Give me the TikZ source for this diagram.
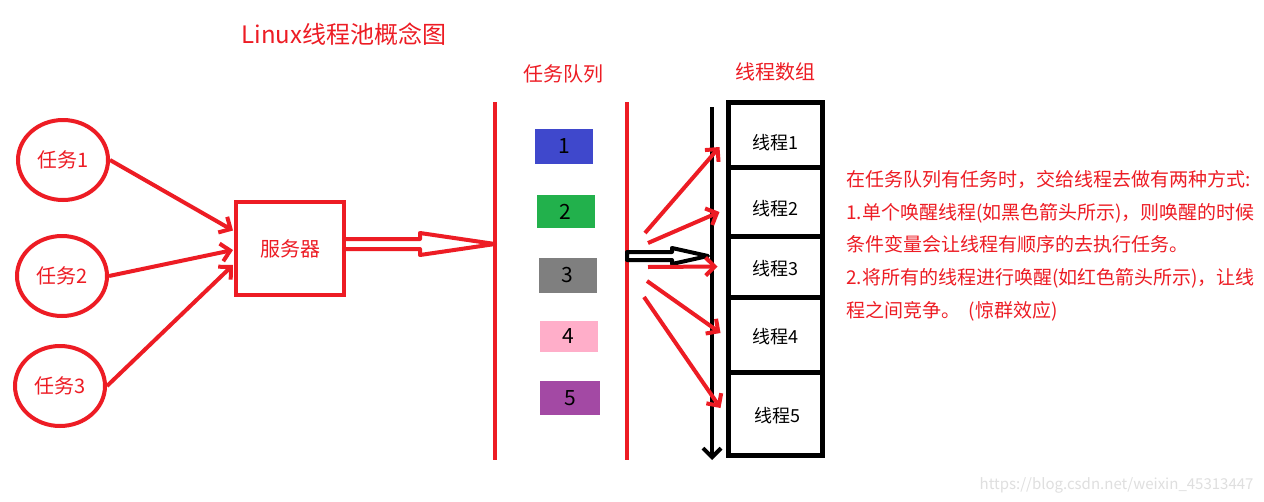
\documentclass[tikz,border=0pt]{standalone}
\usepackage{fontspec}
\setmainfont{Noto Sans CJK SC}
\usetikzlibrary{shapes.geometric,arrows.meta,calc}
\definecolor{paintred}{HTML}{ED1C24}
\definecolor{paintblue}{HTML}{3F48CC}
\definecolor{paintgreen}{HTML}{22B14C}
\definecolor{paintgray}{HTML}{7F7F7F}
\definecolor{paintpink}{HTML}{FFAEC9}
\definecolor{paintpurple}{HTML}{A349A4}

\begin{document}
\begin{tikzpicture}[x=1pt,y=-1pt,>={Straight Barb[length=9pt,width=18pt]},
  task/.style={ellipse,draw=paintred,line width=4pt,minimum width=90pt,
    minimum height=80pt,inner sep=0pt,text=paintred,font=\fontsize{20}{24}\selectfont},
  qitem/.style={minimum width=58pt,minimum height=34pt,inner sep=0pt,
    font=\fontsize{21}{24}\selectfont},
  thread/.style={draw,line width=5pt,minimum width=94pt,inner sep=0pt,
    font=\fontsize{18}{22}\selectfont},
  redline/.style={paintred,line width=4pt},
  blackline/.style={black,line width=4pt}]
  \fill[white] (0,0) rectangle (1264,501);
  \useasboundingbox (0,0) rectangle (1264,501);

  % titles
  \node[paintred,font=\fontsize{24}{28}\selectfont] (title) at (344,34) {Linux线程池概念图};
  \node[paintred,font=\fontsize{20}{24}\selectfont] (qlabel) at (563,74) {任务队列};
  \node[paintred,font=\fontsize{20}{24}\selectfont] (tlabel) at (775,72) {线程数组};

  % tasks and server
  \node[task] (task1) at (63,160) {任务1};
  \node[task] (task2) at (62,276) {任务2};
  \node[task] (task3) at (60,386) {任务3};
  \node[draw=paintred,line width=4pt,minimum width=108pt,minimum height=93pt,
    text=paintred,font=\fontsize{20}{24}\selectfont] (server) at (290,248.5) {服务器};

  \draw[redline,->] (task1.east) -- ($(server.west)+(-1,-18)$);
  \draw[redline,->] (task2.east) -- ($(server.west)+(-1,1.5)$);
  \draw[redline,->] (task3.east) -- ($(server.west)+(-1,16.5)$);

  % hollow arrow into the queue
  \draw[redline,line join=round] ([yshift=9.5pt]server.east) -- ++(74,0) -- ++(0,-6)
    -- ++(75,11) -- ++(-75,11) -- ++(0,-6) -- ++(-74,0);

  % task queue
  \draw[redline,line width=4.5pt] (495,102) -- (495,460);
  \draw[redline,line width=4.5pt] (627,102) -- (627,460);
  \node[qitem,fill=paintblue,minimum height=35pt] (q1) at (564,146.5) {1};
  \node[qitem,fill=paintgreen,minimum height=33pt] (q2) at (565.5,211.5) {2};
  \node[qitem,fill=paintgray,minimum height=35pt] (q3) at (567.5,275.5) {3};
  \node[qitem,fill=paintpink,minimum height=31pt] (q4) at (568.5,336.5) {4};
  \node[qitem,fill=paintpurple,minimum width=60pt] (q5) at (570,398) {5};

  % thread array
  \draw[blackline,->] (712,107) -- (712,460);
  \node[thread,minimum height=65pt] (t1) at (775,134.5) {\raisebox{-8pt}[\height][\depth]{线程1}};
  \node[thread,minimum height=69pt] (t2) at (775,201.5) {\raisebox{-7pt}[\height][\depth]{线程2}};
  \node[thread,minimum height=61pt] (t3) at (775,266.5) {\raisebox{-2pt}[\height][\depth]{线程3}};
  \node[thread,minimum height=75pt] (t4) at (775,334.5) {\raisebox{-2pt}[\height][\depth]{线程4}};
  \node[thread,minimum height=83pt] (t5) at (775,413.5) {\raisebox{-2pt}[\height][\depth]{\hspace{4pt}线程5}};

  % one thread woken
  \draw[blackline,line join=round] (627,252) -- (672,252) -- (672,248) -- (708,256)
    -- (672,264) -- (672,260) -- (627,260) -- cycle;

  % all threads woken
  \coordinate (w1) at (645,233);
  \coordinate (w2) at (648,243);
  \coordinate (w3) at (648,267);
  \coordinate (w4) at (647,281);
  \coordinate (w5) at (644,297);
  \draw[redline,->] (w1) -- ($(t1.west)+(-6,12.5)$);
  \draw[redline,->] (w2) -- ($(t2.west)+(-6,10.5)$);
  \draw[redline,->] (w3) -- ($(t3.west)+(-8,0)$);
  \draw[redline,->] (w4) -- ($(t4.west)+(-5,-1.5)$);
  \draw[redline,->] (w5) -- ($(t5.west)+(-5,-5.5)$);

  % explanation
  \node[paintred,anchor=north west,align=left,inner sep=0pt,
    font=\fontsize{19}{32.7}\selectfont] (note) at (846,170)
    {在任务队列有任务时，交给线程去做有两种方式:\\
     1.单个唤醒线程(如黑色箭头所示)，则唤醒的时候\\
     条件变量会让线程有顺序的去执行任务。\\
     2.将所有的线程进行唤醒(如红色箭头所示)，让线\\
     程之间竞争。\ \ (惊群效应)};

  \node[gray!25,anchor=east,font=\fontsize{15}{18}\selectfont] (mark) at (1257,485)
    {https://blog.csdn.net/weixin\_45313447};
\end{tikzpicture}
\end{document}
